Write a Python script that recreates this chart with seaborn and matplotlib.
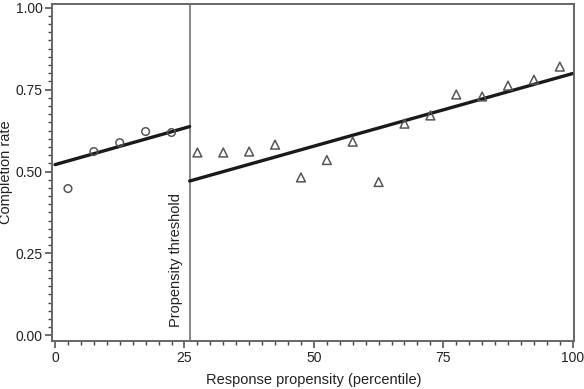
import numpy as np
import pandas as pd
import matplotlib
matplotlib.use("Agg")
import matplotlib.pyplot as plt
from matplotlib.ticker import MultipleLocator
import seaborn as sns

# below-threshold bins (circles)
low_x = [2.5, 7.5, 12.5, 17.5, 22.5]
low_y = [0.448, 0.561, 0.588, 0.622, 0.619]

# above-threshold bins (triangles)
high_x = [27.5, 32.5, 37.5, 42.5, 47.5, 52.5, 57.5, 62.5, 67.5, 72.5,
          77.5, 82.5, 87.5, 92.5, 97.5]
high_y = [0.558, 0.558, 0.561, 0.582, 0.482, 0.535, 0.591, 0.468, 0.646, 0.671,
          0.735, 0.729, 0.762, 0.780, 0.820]

# fitted lines on each side of the threshold
threshold = 26
fit_low_x = [0, threshold]
fit_low_y = [0.521, 0.637]
fit_high_x = [threshold, 100]
fit_high_y = [0.471, 0.799]

sns.set_theme(style="ticks")
plt.rcParams["font.family"] = ["Liberation Sans", "DejaVu Sans"]

fig = plt.figure(figsize=(5.84, 3.89), dpi=100)
ax = fig.add_axes([0.0896, 0.1234, 0.8938, 0.8663])

df_low = pd.DataFrame({"x": low_x, "y": low_y})
df_high = pd.DataFrame({"x": high_x, "y": high_y})

sns.lineplot(x=fit_low_x, y=fit_low_y, ax=ax, color="#1a1a1a", lw=2.4)
sns.lineplot(x=fit_high_x, y=fit_high_y, ax=ax, color="#1a1a1a", lw=2.4)
sns.scatterplot(data=df_low, x="x", y="y", ax=ax, marker="o", s=30,
                facecolors="none", edgecolor="#555555", linewidth=1.1, zorder=3)
sns.scatterplot(data=df_high, x="x", y="y", ax=ax, marker="^", s=40,
                facecolors="none", edgecolor="#555555", linewidth=1.1, zorder=3)

ax.axvline(threshold, color="#888888", lw=1.4, zorder=1)
ax.text(threshold - 1.2, 0.027, "Propensity threshold", rotation=90,
        ha="right", va="bottom", fontsize=10.5, color="#222222")

ax.set_xlim(-0.52, 100.3)
ax.set_ylim(-0.017, 1.011)
ax.xaxis.set_major_locator(MultipleLocator(25))
ax.xaxis.set_minor_locator(MultipleLocator(2.5))
ax.yaxis.set_major_locator(MultipleLocator(0.25))
ax.yaxis.set_minor_locator(MultipleLocator(0.025))
ax.yaxis.set_major_formatter(plt.FormatStrFormatter("%.2f"))

ax.tick_params(which="major", direction="out", length=5, width=1.1,
               color="#444444", labelsize=10, labelcolor="#222222", pad=2)
ax.tick_params(which="minor", direction="out", length=3, width=1.0, color="#444444")
for sp in ax.spines.values():
    sp.set_color("#666666")
    sp.set_linewidth(1.4)

ax.set_xlabel("Response propensity (percentile)", fontsize=10.5, color="#222222")
ax.set_ylabel("Completion rate", fontsize=10.5, color="#222222")
ax.xaxis.set_label_coords(0.5, -0.095)
ax.yaxis.set_label_coords(-0.075, 0.5)

fig.savefig("out.png", dpi=100)
plt.close(fig)
